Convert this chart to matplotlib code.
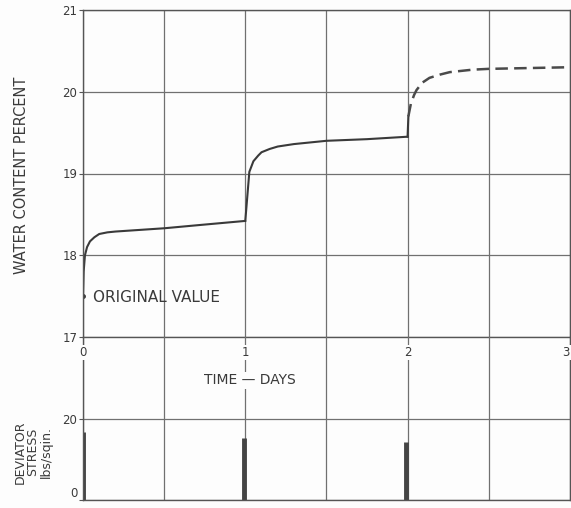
import matplotlib
matplotlib.use('Agg')
import matplotlib.pyplot as plt

# water content curve (days, percent)
days_1 = [0, 0.004, 0.012, 0.025, 0.043, 0.07, 0.1, 0.15, 0.2, 0.35, 0.5, 0.72, 1.0]
wc_1 = [17.5, 17.8, 18.0, 18.1, 18.17, 18.22, 18.26, 18.28, 18.29, 18.31, 18.33, 18.37, 18.42]
days_2 = [1.0, 1.025, 1.05, 1.08, 1.1, 1.15, 1.2, 1.3, 1.5, 1.75, 2.0]
wc_2 = [18.42, 19.02, 19.15, 19.22, 19.26, 19.3, 19.33, 19.36, 19.40, 19.42, 19.45]
days_2b = [2.0, 2.005]
wc_2b = [19.45, 19.70]
days_3 = [2.005, 2.02, 2.04, 2.055, 2.09, 2.135, 2.2, 2.26, 2.4, 2.5, 2.75, 3.0]
wc_3 = [19.70, 19.85, 19.96, 20.02, 20.11, 20.17, 20.21, 20.24, 20.27, 20.28, 20.29, 20.30]

original_day = [0]
original_wc = [17.5]

# deviator stress pulses
stress_days = [0, 0.99, 1.99]
stress = [16.6, 15.2, 14.2]

day_ticks = [0, 1, 2, 3]
wc_ticks = [17, 18, 19, 20, 21]
stress_ticks = [0, 20]

ink = '#3a3a3a'
grid_c = '#707070'
bg = '#fdfdfd'

fig = plt.figure(figsize=(5.71, 5.08), dpi=100)
fig.patch.set_facecolor(bg)
ax = fig.add_axes([83/571, 1 - 337/508, 1 - 83/571 - 0.002, (337 - 10)/508])
ax2 = fig.add_axes([83/571, 1 - 500/508, 1 - 83/571 - 0.002, (500 - 337)/508])

for a in (ax, ax2):
    a.set_facecolor('none')
    a.set_xlim(0, 3)
    for s in a.spines.values():
        s.set_color('#555555')
        s.set_linewidth(1.0)
    a.set_xticks([0.5 * i for i in range(7)])
    a.grid(True, color=grid_c, linewidth=0.9)
    a.tick_params(axis='x', length=0, labelbottom=False)
    a.tick_params(axis='y', length=3, color='#555555', labelsize=8.5,
                  labelcolor=ink, pad=1)

ax.set_ylim(17, 21)
ax.set_yticks(wc_ticks)
ax2.set_ylim(0, 40)
ax2.set_yticks(stress_ticks)
ax2.spines['top'].set_visible(False)
# keep the "0" inside the picture
ax2.get_yticklabels()[0].set_va('bottom')

ax.plot(days_1, wc_1, color=ink, lw=1.5, solid_capstyle='round')
ax.plot(days_2, wc_2, color=ink, lw=1.5)
ax.plot(days_2b, wc_2b, color=ink, lw=1.5)
ax.plot(days_3, wc_3, color='#4a4a4a', lw=1.8, ls=(0, (5, 2.5)))
ax.plot(original_day, original_wc, 'o', color=ink, ms=2.5)
ax.text(0.06, 17.48, 'ORIGINAL VALUE', fontsize=11, color=ink,
        va='center', ha='left')

ax2.vlines(stress_days, 0, stress, color='#444444', lw=3.5)

# day labels sit in the gap above the stress plot
for d in day_ticks:
    ax2.text(d, 36.2, str(d), ha='right' if d == 3 else 'center',
             va='center', fontsize=8.5, color=ink,
             bbox=dict(fc=bg, ec='none', pad=0.5))
ax2.text(1.03, 29.4, 'TIME — DAYS', ha='center', va='center', fontsize=10,
         color=ink, bbox=dict(fc=bg, ec='none', pad=1))

fig.text(22/571, 1 - 175/508, 'WATER CONTENT PERCENT', rotation=90,
         ha='center', va='center', fontsize=10.5, color=ink)
fig.text(33/571, 1 - 452/508, 'DEVIATOR\nSTRESS\nlbs/sqin.', rotation=90,
         ha='center', va='center', fontsize=9, color=ink, linespacing=1.0)

fig.savefig('out.png', dpi=100, facecolor=fig.get_facecolor())
